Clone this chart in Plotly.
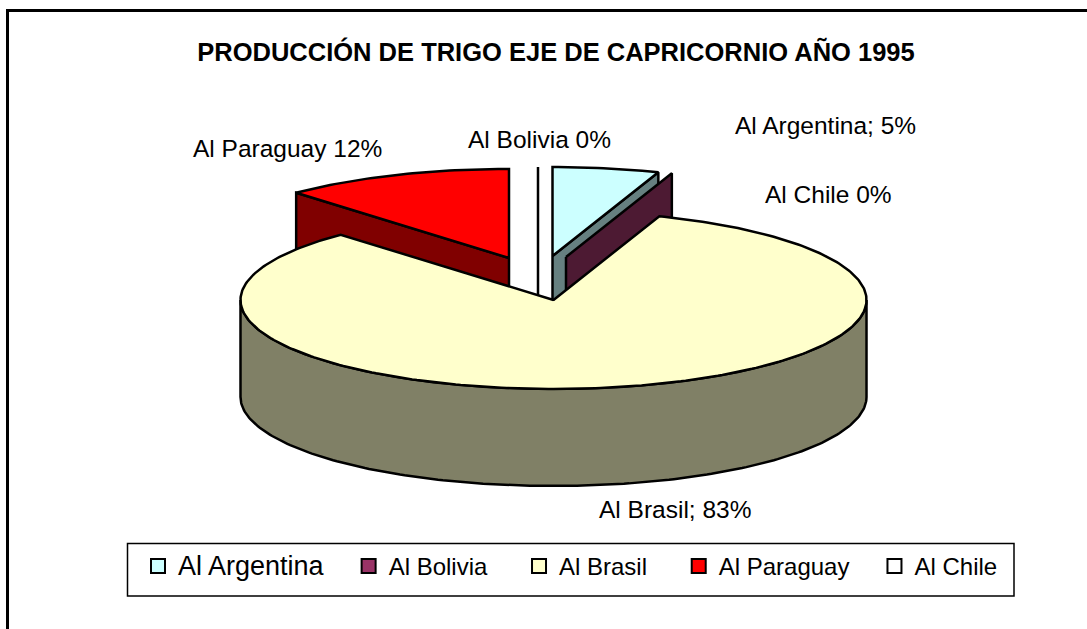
import numpy as np
import plotly.graph_objects as go

names = ["Al Argentina", "Al Bolivia", "Al Brasil", "Al Paraguay", "Al Chile"]
values = [5.49, 0.0, 82.61, 11.9, 0.0]
label_seps = [";", "", ";", "", ""]
top_colors = ["#CCFFFF", "#993366", "#FFFFCC", "#FF0000", "#FFFFFF"]
wall_colors = ["#668080", "#4D1A33", "#808066", "#800000", "#FFFFFF"]
title_text = "PRODUCCIÓN DE TRIGO EJE DE CAPRICORNIO AÑO 1995"

FONT = "Liberation Sans, Arial, sans-serif"
LINE = 2.5

# pie projection, in the pixel scale of the axes
RX, RY, DEPTH = 313, 89, 97
apex = {
    "Al Argentina": (552.5, 256),
    "Al Bolivia": (566, 257),
    "Al Brasil": (553.5, 300),
    "Al Paraguay": (509, 258),
    "Al Chile": (538, 256),
}
label_pos = {
    "Al Argentina": (825, 125),
    "Al Bolivia": (539, 139),
    "Al Brasil": (675, 509),
    "Al Paraguay": (287, 148),
    "Al Chile": (828, 194),
}
legend_padding = [3, 4, 4, 3, 0]

edges = np.concatenate([[0], np.cumsum(values)]) / sum(values) * 2 * np.pi
spans = {n: (edges[i], edges[i + 1]) for i, n in enumerate(names)}
colors = dict(zip(names, top_colors))
walls = dict(zip(names, wall_colors))


def pt(name, t):
    cx, cy = apex[name]
    return cx + RX * np.sin(t), cy - RY * np.cos(t)


def arc(name, t0, t1):
    ts = np.linspace(t0, t1, max(2, int(abs(t1 - t0) * 60)))
    return pt(name, ts)


def poly(fig, xs, ys, color):
    fig.add_trace(go.Scatter(
        x=list(xs), y=list(ys), mode="lines", fill="toself", fillcolor=color,
        line=dict(color="#000000", width=LINE), showlegend=False, hoverinfo="skip",
    ))


def top_face(fig, name):
    t0, t1 = spans[name]
    ax, ay = arc(name, t0, t1)
    cx, cy = apex[name]
    poly(fig, np.r_[cx, ax, cx], np.r_[cy, ay, cy], colors[name])


def radial_wall(fig, name, t):
    cx, cy = apex[name]
    ox, oy = pt(name, t)
    poly(fig, [cx, ox, ox, cx, cx], [cy, oy, oy + DEPTH, cy + DEPTH, cy], walls[name])


fig = go.Figure()

# back to front
radial_wall(fig, "Al Argentina", spans["Al Argentina"][1])
top_face(fig, "Al Argentina")
radial_wall(fig, "Al Bolivia", spans["Al Bolivia"][1])
radial_wall(fig, "Al Chile", spans["Al Chile"][0])
radial_wall(fig, "Al Paraguay", spans["Al Paraguay"][0])
top_face(fig, "Al Paraguay")

fx, fy = arc("Al Brasil", np.pi / 2, 3 * np.pi / 2)
poly(fig, np.r_[fx, fx[::-1], fx[0]], np.r_[fy, fy[::-1] + DEPTH, fy[0]], walls["Al Brasil"])
top_face(fig, "Al Brasil")

for i, n in enumerate(names):
    shown = f'<span style="font-size:27px">{n}</span>' if i == 0 else n
    fig.add_trace(go.Scatter(
        x=[None], y=[None], mode="markers", name=shown + "\u00a0" * legend_padding[i],
        marker=dict(symbol="square", size=14, color=top_colors[i], line=dict(color="#000000", width=2)),
    ))
    lx, ly = label_pos[n]
    fig.add_annotation(
        x=lx, y=ly, text=f"{n}{label_seps[i]} {values[i]:.0f}%", showarrow=False,
        font=dict(family=FONT, size=24.5, color="#000000"),
        xanchor="center", yanchor="middle",
    )

# chart frame (runs off the right and bottom of the page) and legend box
fig.add_shape(type="rect", x0=7.5, y0=10.5, x1=1110, y1=660, line=dict(color="#000000", width=3), layer="below")
fig.add_shape(type="rect", x0=127.5, y0=543.5, x1=1014, y1=596, line=dict(color="#000000", width=1.5),
              fillcolor="#FFFFFF", layer="below")

fig.update_layout(
    width=1087, height=629, margin=dict(l=0, r=0, t=0, b=0),
    paper_bgcolor="#FFFFFF", plot_bgcolor="#FFFFFF",
    xaxis=dict(range=[0, 1087], visible=False, fixedrange=True),
    yaxis=dict(range=[629, 0], visible=False, fixedrange=True),
    title=dict(text=f"<b>{title_text}</b>", x=556 / 1087, xanchor="center",
               y=1 - 52 / 629, yanchor="middle",
               font=dict(family=FONT, size=25.5, color="#000000")),
    legend=dict(orientation="h", x=138 / 1087, xanchor="left", y=1 - 544 / 629, yanchor="top",
                bgcolor="rgba(0,0,0,0)", borderwidth=0,
                font=dict(family=FONT, size=24, color="#000000")),
    showlegend=True,
)

fig.write_html("out.html", config={"displayModeBar": False},
               post_script="document.body.style.margin='0';")
